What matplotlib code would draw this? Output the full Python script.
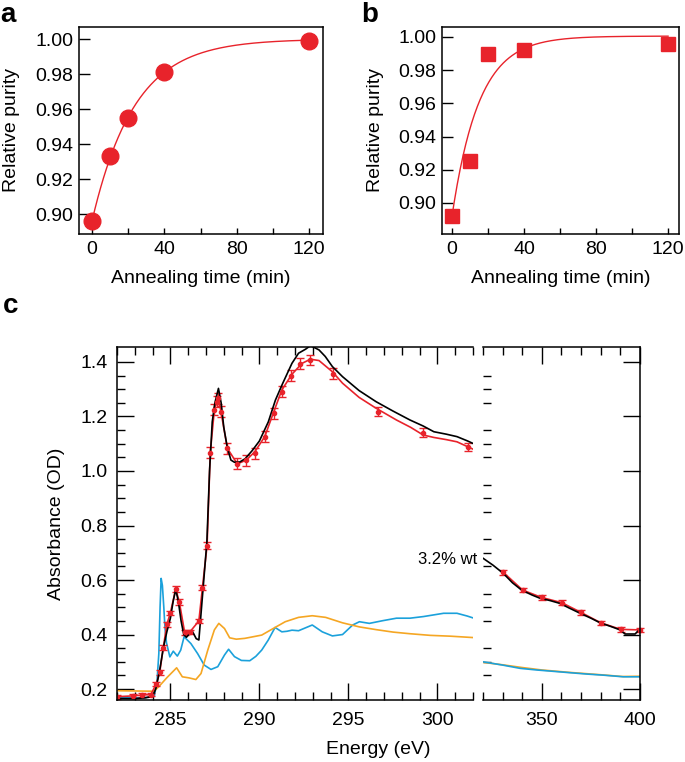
import numpy as np
import matplotlib
matplotlib.use('Agg')
import matplotlib.pyplot as plt

plt.rcParams['font.family'] = ['Liberation Sans', 'DejaVu Sans']
plt.rcParams['font.size'] = 14

# panels a and b: relative purity vs annealing time
t_anneal = [0, 10, 20, 40, 120]
purity_a = [0.896, 0.933, 0.955, 0.981, 0.999]
purity_b = [0.892, 0.925, 0.990, 0.992, 0.996]
# exponential fit parameters: A - B*exp(-t/tau)
fit_a = (1.000, 0.104, 23.5)
fit_b = (1.0005, 0.108, 15.0)

# panel c, left part (282-302 eV)
black_E = [282.0, 283.0, 283.6, 284.0, 284.2, 284.4, 284.6, 284.8, 285.0, 285.15, 285.3, 285.45,
           285.6, 285.75, 285.9, 286.1, 286.25, 286.45, 286.6, 286.75, 286.9, 287.05, 287.2,
           287.35, 287.5, 287.7, 287.85, 288.0, 288.2, 288.4, 288.6, 288.9, 289.2, 289.6, 290.0,
           290.5, 290.9, 291.3, 291.83, 292.2, 292.6, 292.87, 293.35, 293.7, 294.1, 294.67,
           295.6, 296.56, 297.5, 298.46, 299.2, 299.8, 300.5, 301.1, 301.7, 302.2]
black_y = [0.165, 0.165, 0.168, 0.172, 0.205, 0.27, 0.35, 0.41, 0.46, 0.52, 0.566, 0.52,
           0.45, 0.40, 0.39, 0.405, 0.41, 0.385, 0.38, 0.50, 0.62, 0.74, 1.0,
           1.18, 1.25, 1.303, 1.25, 1.16, 1.085, 1.04, 1.032, 1.033, 1.045, 1.075, 1.11,
           1.18, 1.26, 1.32, 1.395, 1.432, 1.447, 1.46, 1.444, 1.42, 1.383, 1.346,
           1.295, 1.254, 1.22, 1.187, 1.165, 1.144, 1.135, 1.126, 1.11, 1.095]

red_E = [282.0, 282.9, 283.4, 283.9, 284.2, 284.4, 284.6, 284.8, 285.0, 285.3, 285.5, 285.8,
         286.1, 286.6, 286.8, 287.06, 287.24, 287.47, 287.6, 287.7, 287.84, 288.2, 288.76,
         289.27, 289.78, 290.3, 290.8, 291.28, 291.8, 292.3, 292.82, 294.14, 296.66, 299.2, 301.7]
red_y = [0.172, 0.175, 0.178, 0.18, 0.218, 0.261, 0.352, 0.437, 0.48, 0.567, 0.52, 0.408,
         0.41, 0.45, 0.572, 0.726, 1.067, 1.224, 1.254, 1.267, 1.218, 1.083, 1.026,
         1.04, 1.065, 1.126, 1.212, 1.291, 1.349, 1.393, 1.407, 1.356, 1.218, 1.141, 1.089]
red_err = [0.007, 0.007, 0.007, 0.007, 0.008, 0.008, 0.008, 0.008, 0.008, 0.01, 0.01, 0.008,
           0.008, 0.008, 0.01, 0.012, 0.02, 0.02, 0.02, 0.02, 0.02, 0.02, 0.02,
           0.02, 0.02, 0.02, 0.02, 0.02, 0.02, 0.02, 0.02, 0.02, 0.018, 0.018, 0.015]

red_line_E = [282.0, 282.9, 283.4, 283.9, 284.2, 284.4, 284.6, 284.8, 285.0, 285.3, 285.5, 285.8,
              286.1, 286.6, 286.8, 287.06, 287.24, 287.47, 287.6, 287.7, 287.84, 288.2, 288.76,
              289.27, 289.75, 290.3, 290.88, 291.26, 291.83, 292.4, 292.87, 293.35, 294.1, 294.67,
              295.6, 296.56, 297.7, 298.5, 299.2, 299.8, 300.5, 301.1, 302.0]
red_line_y = [0.172, 0.175, 0.178, 0.18, 0.218, 0.261, 0.352, 0.437, 0.48, 0.567, 0.52, 0.408,
              0.41, 0.45, 0.572, 0.726, 1.067, 1.224, 1.254, 1.267, 1.218, 1.083, 1.026,
              1.04, 1.071, 1.126, 1.23, 1.297, 1.355, 1.395, 1.41, 1.405, 1.364, 1.322,
              1.27, 1.23, 1.187, 1.16, 1.132, 1.123, 1.115, 1.107, 1.08]

blue_E = [282.0, 283.5, 284.1, 284.25, 284.35, 284.42, 284.48, 284.55, 284.63, 284.7, 284.78,
          284.97, 285.16, 285.39, 285.58, 285.77, 285.95, 286.15, 286.53, 286.9, 287.28, 287.66,
          288.04, 288.27, 288.6, 288.99, 289.46, 289.8, 290.13, 290.5, 290.88, 291.26, 291.55,
          291.83, 292.2, 292.97, 293.53, 294.1, 294.67, 295.24, 295.62, 296.18, 296.94, 297.7,
          298.46, 299.22, 300.35, 301.1, 301.67, 302.24]
blue_y = [0.168, 0.168, 0.175, 0.23, 0.33, 0.5, 0.606, 0.58, 0.50, 0.42, 0.37,
          0.318, 0.339, 0.321, 0.343, 0.392, 0.38, 0.367, 0.33, 0.288, 0.272, 0.282,
          0.325, 0.346, 0.319, 0.305, 0.304, 0.32, 0.343, 0.38, 0.426, 0.41, 0.412,
          0.416, 0.414, 0.435, 0.41, 0.395, 0.40, 0.435, 0.447, 0.441, 0.451, 0.46,
          0.46, 0.466, 0.478, 0.478, 0.468, 0.456]

orange_E = [282.0, 284.07, 284.35, 284.82, 285.35, 285.67, 286.05, 286.43, 286.72, 287.1, 287.47,
            287.72, 288.04, 288.33, 288.7, 289.18, 290.13, 290.88, 291.45, 292.2, 292.97, 293.72,
            294.67, 295.62, 296.56, 297.51, 298.46, 299.6, 300.73, 302.24]
orange_y = [0.194, 0.192, 0.209, 0.243, 0.278, 0.245, 0.241, 0.235, 0.257, 0.343, 0.417,
            0.441, 0.422, 0.388, 0.383, 0.386, 0.398, 0.426, 0.447, 0.463, 0.469, 0.463,
            0.443, 0.428, 0.418, 0.409, 0.403, 0.397, 0.394, 0.388]

# panel c, right part (320-400 eV)
black_E2 = [320, 325, 330.4, 335, 339.7, 345, 349.1, 354, 359.3, 364, 369.5, 375, 379.7, 385,
            389.9, 392.4, 397.5, 399.5]
black_y2 = [0.68, 0.655, 0.624, 0.59, 0.563, 0.545, 0.533, 0.525, 0.514, 0.497, 0.478, 0.46,
            0.443, 0.43, 0.417, 0.402, 0.402, 0.417]
red_E2 = [330.4, 340.2, 349.9, 360.1, 370, 380, 390.2, 400]
red_y2 = [0.628, 0.563, 0.536, 0.517, 0.481, 0.443, 0.419, 0.417]
red_err2 = [0.008, 0.008, 0.008, 0.008, 0.008, 0.008, 0.008, 0.008]
blue_E2 = [320, 330, 338.9, 347.4, 356, 364.4, 373, 381.4, 391.6, 400]
blue_y2 = [0.30, 0.288, 0.276, 0.27, 0.265, 0.26, 0.255, 0.251, 0.245, 0.245]
orange_E2 = [320, 330, 340, 350, 364.4, 381, 391, 400]
orange_y2 = [0.298, 0.289, 0.279, 0.27, 0.261, 0.252, 0.246, 0.247]

red = '#E8232B'
blue = '#1BA1DB'
orange = '#F5A623'

fig = plt.figure(figsize=(6.85, 7.62), dpi=100)

def purity_panel(rect, y, marker, ms, fit, xlim, ylim):
    ax = fig.add_axes(rect)
    tt = np.linspace(0, 120, 300)
    A, B, tau = fit
    ax.plot(tt, A - B * np.exp(-tt / tau), color=red, lw=1.0, zorder=2)
    ax.plot(t_anneal, y, marker, color=red, ms=ms, ls='none', zorder=3, clip_on=False)
    ax.set_xlim(*xlim)
    ax.set_ylim(*ylim)
    ax.set_xticks([0, 40, 80, 120])
    ax.set_xticks([20, 60, 100], minor=True)
    ax.set_yticks([0.90, 0.92, 0.94, 0.96, 0.98, 1.00])
    ax.set_yticklabels(['0.90', '0.92', '0.94', '0.96', '0.98', '1.00'])
    ax.tick_params(axis='x', which='both', direction='in', length=4, width=1, labelsize=14, pad=5)
    ax.tick_params(axis='y', which='both', direction='in', length=8, width=1, labelsize=14, pad=4)
    for s in ax.spines.values():
        s.set_linewidth(1.1)
    ax.set_xlabel('Annealing time (min)', fontsize=14)
    ax.set_ylabel('Relative purity', fontsize=14)
    ax.xaxis.set_label_coords(0.5, -0.175)
    return ax

ax_a = purity_panel([0.1153, 0.6929, 0.3562, 0.2717], purity_a, 'o', 12, fit_a,
                    (-7.2, 127.7), (0.8886, 1.0069))
ax_a.yaxis.set_label_coords(-0.242, 0.5)
ax_b = purity_panel([0.6453, 0.6929, 0.3460, 0.2717], purity_b, 's', 9.5, fit_b,
                    (-5.6, 126.1), (0.8813, 1.006))
ax_b.yaxis.set_label_coords(-0.245, 0.5)

# panel c
axL = fig.add_axes([0.1708, 0.0814, 0.5197, 0.4633])
axR = fig.add_axes([0.7051, 0.0814, 0.2292, 0.4633])

for ax in (axL, axR):
    ax.set_ylim(0.16, 1.455)
    ax.set_yticks(np.arange(0.2, 1.41, 0.2))
    ax.set_yticks(np.arange(0.2, 1.45, 0.05), minor=True)
    for s in ax.spines.values():
        s.set_linewidth(1.1)
    ax.tick_params(which='major', direction='in', length=12, width=1, labelsize=14)
    ax.tick_params(which='minor', direction='in', length=6, width=1)
    ax.tick_params(axis='x', top=True, which='both', pad=9)
    ax.tick_params(axis='y', which='both', pad=7)

axL.plot(blue_E, blue_y, color=blue, lw=1.2)
axL.plot(orange_E, orange_y, color=orange, lw=1.2)
axL.plot(red_line_E, red_line_y, color=red, lw=1.2)
axL.errorbar(red_E, red_y, yerr=red_err, fmt='o', ms=3, color=red, ecolor=red,
             elinewidth=1, capsize=3, capthick=1)
axL.plot(black_E, black_y, color='black', lw=1.2)
axL.set_xlim(282, 302)
axL.set_xticks([285, 290, 295, 300])
axL.set_xticks(np.arange(282, 303, 1), minor=True)
axL.spines['right'].set_visible(False)
axL.tick_params(axis='y', right=False)
axL.set_yticklabels(['0.2', '0.4', '0.6', '0.8', '1.0', '1.2', '1.4'])
axL.set_ylabel('Absorbance (OD)', fontsize=14)
axL.yaxis.set_label_coords(-0.146, 0.5)

axR.plot(orange_E2, orange_y2, color=orange, lw=1.2)
axR.plot(blue_E2, blue_y2, color=blue, lw=1.2)
axR.plot(red_E2, red_y2, color=red, lw=1.2)
axR.errorbar(red_E2, red_y2, yerr=red_err2, fmt='o', ms=3, color=red, ecolor=red,
             elinewidth=1, capsize=3, capthick=1, clip_on=False)
axR.plot(black_E2, black_y2, color='black', lw=1.2)
axR.set_xlim(320, 400)
axR.set_xticks([350, 400])
axR.set_xticks(np.arange(320, 401, 10), minor=True)
axR.spines['left'].set_visible(False)
axR.tick_params(axis='y', left=False, right=True, labelleft=False)

fig.text(477 / 685, 1 - 559 / 762, '3.2% wt', ha='right', va='center', fontsize=12)
fig.text(378 / 685, 1 - 750 / 762, 'Energy (eV)', ha='center', va='center', fontsize=14)

fig.text(0.0, 0.980, 'a', fontsize=20, fontweight='bold', va='center', ha='left')
fig.text(0.528, 0.980, 'b', fontsize=20, fontweight='bold', va='center', ha='left')
fig.text(0.004, 0.598, 'c', fontsize=20, fontweight='bold', va='center', ha='left')

fig.savefig('out.png', dpi=100)
